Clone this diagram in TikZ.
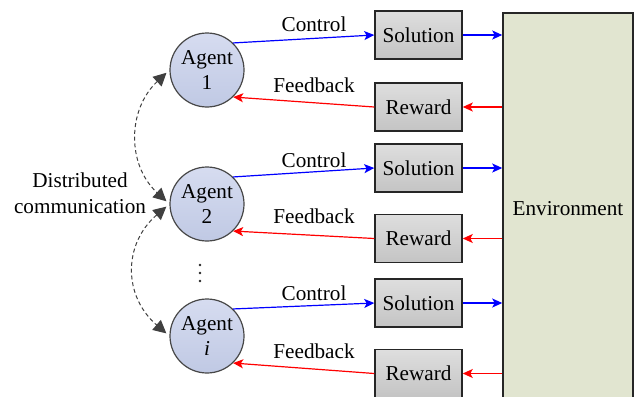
\documentclass[tikz,border=0pt]{standalone}
\usepackage{fontspec}
\setmainfont{Liberation Serif}
\usetikzlibrary{arrows.meta,calc}
\definecolor{agtop}{RGB}{214,220,240}
\definecolor{agbot}{RGB}{192,201,228}
\definecolor{boxtop}{RGB}{222,222,222}
\definecolor{boxbot}{RGB}{196,196,196}
\definecolor{envfill}{RGB}{225,229,208}
\definecolor{commcol}{RGB}{64,64,64}
\newcommand{\dfont}{\fontsize{10.6}{12.5}\selectfont}
\tikzset{
  agent/.style={circle, draw=black!72, line width=0.6pt, top color=agtop, bottom color=agbot,
    minimum size=37pt, inner sep=0pt, align=center, font=\dfont},
  box/.style={rectangle, draw=black!85, line width=0.75pt, top color=boxtop, bottom color=boxbot,
    minimum width=43.5pt, minimum height=24pt, inner sep=0pt, font=\dfont},
  envbox/.style={rectangle, draw=black!85, line width=0.75pt, fill=envfill,
    minimum width=65pt, minimum height=196pt, inner sep=0pt, font=\dfont},
  ctrl/.style={draw=blue, line width=0.6pt, -{Stealth[length=5pt,width=4.5pt,inset=1.2pt]}},
  fb/.style={draw=red, line width=0.6pt, -{Stealth[length=5pt,width=4.5pt,inset=1.2pt]}},
  comm/.style={draw=commcol, line width=0.5pt, dash pattern=on 2pt off 1.4pt,
    {Triangle[length=6.5pt,width=6.5pt]}-{Triangle[length=6.5pt,width=6.5pt]},
    shorten <=2pt, shorten >=2pt},
  lbl/.style={font=\dfont, inner sep=0pt},
  dotmark/.style={circle, fill=black!85, inner sep=0pt, minimum size=1.4pt}
}
\begin{document}
\begin{tikzpicture}[x=0.5pt,y=-0.5pt]
\useasboundingbox (0,0) rectangle (636,396);
\clip (0,0) rectangle (636,396);
% environment
\node[envbox] (env) at (568,209) {Environment};
% agents
\node[agent] (a1) at (207,70) {Agent\\1};
\node[agent] (a2) at (207,204) {Agent\\2};
\node[agent] (ai) at (207,336) {Agent\\\textit{i}};
% boxes
\node[box] (s1) at (418.5,35) {Solution};
\node[box] (r1) at (418.5,107) {Reward};
\node[box] (s2) at (418.5,168) {Solution};
\node[box] (r2) at (418.5,238.5) {Reward};
\node[box] (s3) at (418.5,303) {Solution};
\node[box] (r3) at (418.5,373.5) {Reward};
% labels
\node[lbl] (c1) at (314,24) {Control};
\node[lbl] (f1) at (314,85) {Feedback};
\node[lbl] (c2) at (314,160) {Control};
\node[lbl] (f2) at (314,216) {Feedback};
\node[lbl] (c3) at (314,293) {Control};
\node[lbl] (f3) at (314,351) {Feedback};
\node[lbl, align=center, font=\fontsize{10.6}{13}\selectfont] (dc) at (80,193) {Distributed\\communication};
% vertical ellipsis
\node[dotmark] (d1) at (200,265) {};
\node[dotmark] (d2) at (200,273) {};
\node[dotmark] (d3) at (200,281) {};
% control / feedback
\foreach \a/\s/\r in {a1/s1/r1, a2/s2/r2, ai/s3/r3}{
  \draw[ctrl] (\a.46) -- (\s.west);
  \draw[fb] (\r.west) -- (\a.-46);
  \draw[ctrl] (\s.east) -- (\s.east -| env.west);
  \draw[fb] (env.west |- \r.east) -- (\r.east);
}
% communication
\draw[comm] (a1.180) .. controls (127,110) and (127,165) .. (a2.180);
\draw[comm] (a2.180) .. controls (123,244) and (123,296) .. (ai.180);
\end{tikzpicture}
\end{document}
